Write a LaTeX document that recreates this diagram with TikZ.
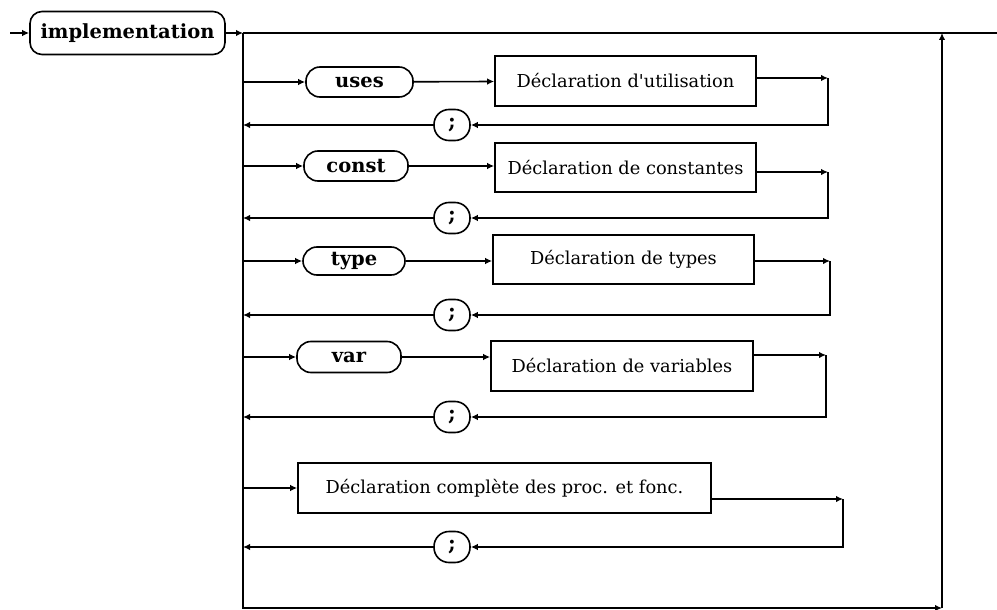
\documentclass[tikz,border=0pt]{standalone}
\usepackage{fontspec}
\setmainfont{DejaVu Serif}
\usetikzlibrary{arrows.meta}
\begin{document}
\begin{tikzpicture}[x=1pt,y=-1pt,line width=1.6pt,
  >={Latex[length=7pt,width=6.5pt]},
  kw/.style={draw,rounded corners=14pt,inner sep=0pt,minimum height=30pt,
    font=\fontsize{19.5}{22}\selectfont\bfseries},
  decl/.style={draw,inner sep=0pt,minimum height=50pt,
    font=\fontsize{17.8}{21}\selectfont},
  semi/.style={draw,rounded corners=15pt,inner sep=0pt,minimum width=36pt,
    minimum height=31pt,font=\fontsize{21}{24}\selectfont\bfseries}]
\useasboundingbox (0,0) rectangle (997,610);
\coordinate (start) at (10,33);
\coordinate (split) at (243,33);
\coordinate (stop) at (997,33);
\coordinate (join) at (942,33);
\coordinate (railb) at (942,608);
\node[kw,rounded corners=12pt,minimum width=195pt,minimum height=43pt,
  font=\fontsize{19.5}{22}\selectfont\bfseries] (impl) at (127.5,33) {implementation};
\draw[->] (start) -- (impl);
\draw[->] (impl) -- (split);
\draw (split) -- (stop);
\draw[->] (split) |- (railb);
\draw[->] (railb) -- (join);
% uses
\node[kw,minimum width=107pt] (uses) at (359.5,82) {uses};
\node[decl,minimum width=261pt] (d1) at (625.5,81) {Déclaration d\textquotesingle utilisation};
\node[semi] (s1) at (452,125) {;};
\coordinate (r1) at (828,78);
\draw[->] (split |- uses) -- (uses);
\draw[->] (uses) -- (d1);
\draw[->] (d1.east |- r1) -- (r1);
\draw[->] (r1) |- (s1);
\draw[->] (s1) -- (split |- s1);
% const
\node[kw,minimum width=104pt] (const) at (356,166) {const};
\node[decl,minimum width=261pt,minimum height=49pt] (d2) at (625.5,167.5) {Déclaration de constantes};
\node[semi] (s2) at (452,218) {;};
\coordinate (r2) at (828,172);
\draw[->] (split |- const) -- (const);
\draw[->] (const) -- (const -| d2.west);
\draw[->] (d2.east |- r2) -- (r2);
\draw[->] (r2) |- (s2);
\draw[->] (s2) -- (split |- s2);
% type
\node[kw,minimum width=102pt,minimum height=28pt] (type) at (354,261) {type};
\node[decl,minimum width=261pt,minimum height=49pt] (d3) at (623.5,259.5) {Déclaration de types};
\node[semi] (s3) at (452,315) {;};
\coordinate (r3) at (830,261);
\draw[->] (split |- type) -- (type);
\draw[->] (type) -- (type -| d3.west);
\draw[->] (d3.east |- r3) -- (r3);
\draw[->] (r3) |- (s3);
\draw[->] (s3) -- (split |- s3);
% var
\node[kw,minimum width=104pt,minimum height=31pt] (var) at (349,357) {var};
\node[decl,minimum width=262pt] (d4) at (622,366) {Déclaration de variables};
\node[semi] (s4) at (452,417) {;};
\coordinate (r4) at (826,355);
\draw[->] (split |- var) -- (var);
\draw[->] (var) -- (var -| d4.west);
\draw[->] (d4.east |- r4) -- (r4);
\draw[->] (r4) |- (s4);
\draw[->] (s4) -- (split |- s4);
% proc et fonc
\node[decl,minimum width=413pt] (d5) at (504.5,488) {Déclaration complète des proc. et fonc.};
\node[semi] (s5) at (452,547) {;};
\coordinate (r5) at (843,499);
\draw[->] (split |- d5) -- (d5);
\draw[->] (d5.east |- r5) -- (r5);
\draw[->] (r5) |- (s5);
\draw[->] (s5) -- (split |- s5);
\end{tikzpicture}
\end{document}
